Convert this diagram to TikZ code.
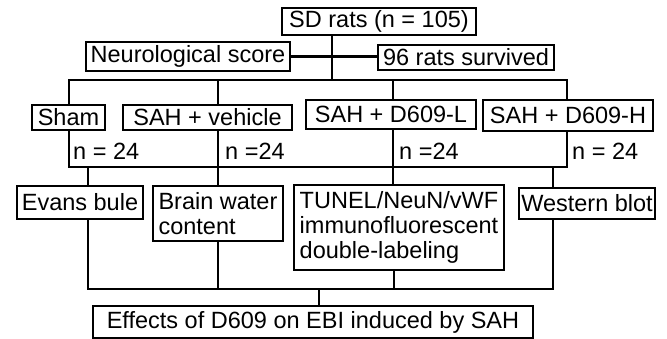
\documentclass[tikz,border=0pt]{standalone}
\usepackage{fontspec}
\setmainfont{Liberation Sans}
\begin{document}
\begin{tikzpicture}[x=1pt,y=-1pt,
  box/.style={draw, line width=2.6pt, inner sep=0pt, outer sep=0pt, anchor=north west,
    font=\fontsize{23.5}{25}\selectfont},
  conn/.style={line width=2.6pt, line cap=rect},
  lbl/.style={inner sep=0pt, anchor=west, font=\fontsize{23.5}{25}\selectfont}]
\useasboundingbox (0,0) rectangle (667,339);
% boxes
\node[box, minimum width=194pt, minimum height=27pt] (sd) at (282,8) {SD rats (n = 105)};
\node[box, minimum width=204pt, minimum height=29pt] (neuro) at (86,42) {Neurological score};
\node[box, minimum width=176pt, minimum height=25pt] (surv) at (378,45) {96 rats survived};
\node[box, minimum width=73pt, minimum height=25pt] (sham) at (32,105) {Sham};
\node[box, minimum width=169pt, minimum height=25pt] (veh) at (123,105) {SAH + vehicle};
\node[box, minimum width=170pt, minimum height=29pt] (dl) at (306,100) {SAH + D609-L};
\node[box, minimum width=170pt, minimum height=31pt] (dh) at (483,100) {SAH + D609-H};
\node[box, minimum width=126pt, minimum height=33pt] (evans) at (17,186) {Evans bule};
\node[box, minimum width=130pt, minimum height=55pt, align=left] (brain) at (153,186) {Brain water\\content};
\node[box, minimum width=210pt, minimum height=85pt, align=left] (tunel) at (294,185) {TUNEL/NeuN/vWF\\immunofluorescent\\double-labeling};
\node[box, minimum width=136pt, minimum height=31pt] (west) at (519,188) {Western blot};
\node[box, minimum width=440pt, minimum height=32pt] (eff) at (93,306) {Effects of D609 on EBI induced by SAH};
% labels
\node[lbl] (n1) at (73,151) {n = 24};
\node[lbl] (n2) at (225,151) {n =24};
\node[lbl] (n3) at (399,151) {n =24};
\node[lbl] (n4) at (572,151) {n = 24};
% junction coordinates
\coordinate (t) at (332,80);
\coordinate (p1) at (69,80);
\coordinate (p2) at (218,80);
\coordinate (p3) at (393,80);
\coordinate (p4) at (567,80);
\coordinate (q1) at (69,167);
\coordinate (q2) at (218,167);
\coordinate (q3) at (393,167);
\coordinate (q4) at (567,167);
\coordinate (r1) at (88,167);
\coordinate (r4) at (553,167);
\coordinate (s1) at (88,289);
\coordinate (s2) at (218,289);
\coordinate (s3) at (394,289);
\coordinate (s4) at (553,289);
\coordinate (s5) at (319,289);
% connectors
\draw[conn] (sd.south -| t) -- (t);
\draw[conn] (neuro.east) -- (neuro.east -| surv.west);
\draw[conn] (p1 |- sham.north) -- (p1) -- (p4) -- (p4 |- dh.north);
\draw[conn] (p2) -- (p2 |- veh.north);
\draw[conn] (p3) -- (p3 |- dl.north);
\draw[conn] (sham.south -| q1) -- (q1) -- (q4) -- (dh.south -| q4);
\draw[conn] (veh.south -| q2) -- (q2);
\draw[conn] (dl.south -| q3) -- (q3);
\draw[conn] (r1) -- (r1 |- evans.north);
\draw[conn] (q2) -- (q2 |- brain.north);
\draw[conn] (q3) -- (q3 |- tunel.north);
\draw[conn] (r4) -- (r4 |- west.north);
\draw[conn] (evans.south -| s1) -- (s1) -- (s4) -- (west.south -| s4);
\draw[conn] (brain.south -| s2) -- (s2);
\draw[conn] (tunel.south -| s3) -- (s3);
\draw[conn] (s5) -- (s5 |- eff.north);
\end{tikzpicture}
\end{document}
